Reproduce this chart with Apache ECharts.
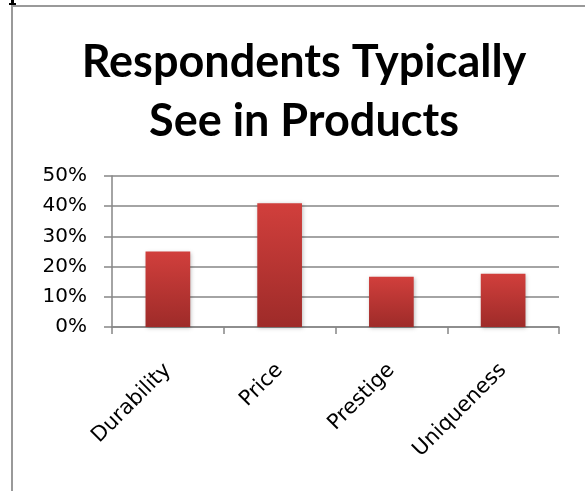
<!DOCTYPE html>
<html>
<head>
<meta charset="utf-8">
<script src="https://cdn.jsdelivr.net/npm/echarts@6/dist/echarts.min.js"></script>
<style>
html,body{margin:0;padding:0;background:#fff;}
#c{width:585px;height:491px;}
</style>
</head>
<body>
<div id="c"></div>
<script>
var categories = ['Durability', 'Price', 'Prestige', 'Uniqueness'];
var values = [0.25, 0.41, 0.166, 0.176];
var titleText = 'Respondents Typically\nSee in Products';

var chart = echarts.init(document.getElementById('c'));
var TFONT = 'Lato, "Open Sans", sans-serif';
var LFONT = '"DejaVu Sans", sans-serif';
chart.setOption({
  animation: false,
  backgroundColor: '#fff',
  title: {
    text: titleText,
    left: 299,
    textAlign: 'center',
    top: 28,
    textStyle: { fontFamily: TFONT, fontWeight: 'bold', fontSize: 45, lineHeight: 59, color: '#000' }
  },
  graphic: [
    { type: 'rect', shape: { x: 11, y: 5, width: 2, height: 486 }, style: { fill: '#999' } },
    { type: 'rect', shape: { x: 11, y: 5, width: 574, height: 2 }, style: { fill: '#999' } },
    { type: 'rect', shape: { x: 11, y: 0, width: 3, height: 3 }, style: { fill: '#000' } },
    { type: 'rect', shape: { x: 9, y: 3, width: 7, height: 2 }, style: { fill: '#000' } }
  ],
  grid: { left: 112, right: 26, top: 176, bottom: 164, containLabel: false },
  xAxis: {
    type: 'category',
    data: categories,
    axisLine: { lineStyle: { color: '#868686', width: 1.5 } },
    axisTick: { show: true, length: 7, lineStyle: { color: '#868686', width: 1.5 } },
    axisLabel: { rotate: 45, margin: 40, color: '#000', fontFamily: LFONT, fontSize: 21 }
  },
  yAxis: {
    type: 'value',
    min: 0, max: 0.5, interval: 0.1,
    axisLine: { show: true, lineStyle: { color: '#868686', width: 1.5 } },
    axisTick: { show: true, length: 8, lineStyle: { color: '#868686', width: 1.5 } },
    splitLine: { lineStyle: { color: '#868686', width: 1.5 } },
    axisLabel: {
      margin: 25, color: '#000', fontFamily: LFONT, fontSize: 20,
      formatter: function (v) { return Math.round(v * 100) + '%'; }
    }
  },
  series: [{
    type: 'bar',
    data: values,
    barWidth: '40%',
    itemStyle: {
      color: new echarts.graphic.LinearGradient(0, 0, 0, 1, [
        { offset: 0, color: '#d13f3c' },
        { offset: 1, color: '#9e2b29' }
      ]),
      shadowColor: 'rgba(0,0,0,0.25)', shadowBlur: 4, shadowOffsetX: 1, shadowOffsetY: 1
    }
  }]
});
</script>
</body>
</html>
